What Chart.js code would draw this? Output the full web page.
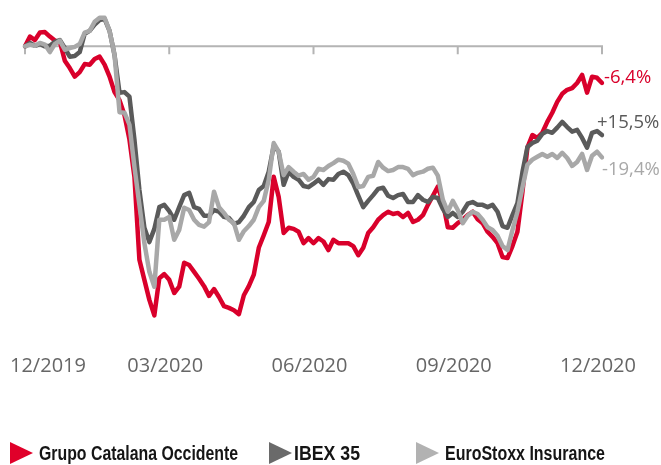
<!DOCTYPE html>
<html>
<head>
<meta charset="utf-8">
<script src="https://cdn.jsdelivr.net/npm/chart.js@4/dist/chart.umd.min.js"></script>
<style>
    body { margin: 0; background: #fff; }
    #wrap { position: relative; width: 661px; height: 465px; overflow: hidden; }
    .legend-tri {
        position: absolute;
        top: 442px;
        width: 0;
        height: 0;
        border-top: 11px solid transparent;
        border-bottom: 11px solid transparent;
        border-left-width: 23px;
        border-left-style: solid;
    }
    .legend-text {
        position: absolute;
        top: 442px;
        height: 22px;
        line-height: 22px;
        font: bold 19.5px "Liberation Sans", Arial, sans-serif;
        color: #151515;
        white-space: nowrap;
        transform-origin: left center;
    }
</style>
</head>
<body>
<div id="wrap">
    <canvas id="chart-performance"></canvas>
</div>
<script>
/**
 * Stock performance 12/2019 - 12/2020, % change from start.
 */

const tickLabels = ['12/2019', '03/2020', '06/2020', '09/2020', '12/2020'];
const tickIndex = [0, 29, 58, 87, 116];

const seriesNames = ['Grupo Catalana Occidente', 'IBEX 35', 'EuroStoxx Insurance'];
const endLabels = ['-6,4%', '+15,5%', '-19,4%'];

const gco = [
    0, 1.7, 1.1, 2.4, 2.5, 1.7, 1.0, 0.8, -2.5, -3.8,
    -5.3, -4.5, -3.1, -3.2, -2.2, -1.8, -3.2, -5.3, -8.0, -9.4,
    -12.0, -16.3, -22.8, -37.3, -40.8, -44.3, -47.0, -40.5, -39.8, -40.8,
    -43.1, -42.0, -37.8, -38.2, -39.4, -40.6, -41.9, -43.6, -42.4, -43.8,
    -45.4, -45.7, -46.1, -46.8, -43.5, -41.9, -39.9, -35.2, -33.0, -30.7,
    -22.8, -26.3, -32.6, -31.7, -31.9, -32.4, -34.4, -33.5, -34.4, -33.5,
    -34.1, -35.6, -33.8, -34.4, -34.4, -34.4, -34.9, -36.5, -35.2, -32.6,
    -31.6, -30.3, -29.5, -28.9, -29.3, -29.1, -29.8, -29.1, -30.7, -30.3,
    -29.5, -27.7, -26.1, -24.5, -27.2, -31.6, -31.7, -30.9, -30.3, -29.5,
    -28.9, -30.2, -30.9, -32.4, -33.3, -34.4, -36.8, -37.0, -34.9, -32.4,
    -25.5, -17.7, -15.5, -16.0, -15.1, -13.2, -11.6, -9.7, -8.3, -7.6,
    -7.3, -6.4, -5.0, -8.1, -5.3, -5.5, -6.4,
];

const ibex = [
    0, 0.6, 0.1, 0.4, 0, 0.1, 0.8, 1.1, -0.3, -1.8,
    -1.7, -1.0, 2.2, 2.7, 3.8, 4.6, 4.8, 2.7, -1.5, -8.1,
    -8.0, -8.8, -16.3, -25.1, -31.7, -34.2, -31.9, -28.1, -27.7, -28.8,
    -30.3, -28.1, -26.0, -25.6, -28.1, -28.4, -29.6, -29.6, -28.6, -28.9,
    -29.8, -30.0, -31.0, -30.7, -29.6, -28.1, -27.2, -25.1, -24.4, -21.9,
    -17.4, -18.4, -24.2, -21.9, -22.8, -23.3, -24.4, -24.6, -24.0, -23.3,
    -24.2, -23.2, -23.3, -22.3, -21.9, -22.5, -24.0, -26.1, -28.1, -27.0,
    -26.0, -24.9, -24.7, -26.1, -26.5, -26.0, -25.8, -27.2, -27.2, -26.0,
    -26.8, -27.2, -26.3, -26.5, -28.4, -29.8, -29.1, -29.8, -28.9, -27.5,
    -27.2, -27.7, -27.7, -28.1, -27.7, -28.9, -31.4, -31.7, -29.5, -27.4,
    -22.0, -17.6, -16.9, -16.5, -15.3, -14.8, -15.1, -14.2, -13.2, -14.1,
    -14.9, -14.6, -16.0, -17.7, -15.1, -14.8, -15.5,
];

const euroStoxx = [
    0, 0.3, 0.1, 0.6, 0.3, -1.0, 0.4, 1.0, -0.6, -0.3,
    -0.1, 0.4, 2.4, 2.7, 4.3, 5.0, 5.0, 2.7, -1.5, -11.5,
    -11.6, -13.7, -21.1, -27.7, -34.4, -39.4, -42.0, -30.3, -30.3, -29.8,
    -33.8, -32.1, -28.2, -28.6, -30.3, -31.2, -31.5, -30.7, -25.4, -28.1,
    -29.1, -30.3, -30.9, -33.8, -32.3, -31.4, -30.3, -28.1, -27.0, -23.3,
    -16.9, -18.4, -22.5, -21.1, -21.9, -22.6, -22.3, -23.3, -22.8, -21.4,
    -21.6, -20.9, -20.4, -19.8, -20.0, -20.5, -22.3, -24.6, -24.4, -22.8,
    -22.6, -20.2, -21.2, -21.8, -21.6, -21.1, -21.1, -21.4, -22.5, -22.1,
    -21.9, -21.4, -21.2, -22.6, -26.8, -28.9, -27.0, -28.6, -30.9, -29.6,
    -28.9, -29.3, -30.3, -31.6, -32.1, -33.1, -34.9, -35.6, -32.1, -28.9,
    -24.7, -20.7, -19.8, -19.3, -18.8, -19.3, -18.8, -19.5, -18.6, -19.5,
    -20.9, -20.2, -18.8, -21.6, -19.1, -18.4, -19.4,
];

const lineColors = ['#d9002b', '#5a5a5a', '#a8a8a8'];
const legendColors = ['#e0002a', '#6a6a6a', '#b2b2b2'];
// legend placement: triangle left, text left, text width (the original uses a condensed face)
const legendTriLeft = [10, 269, 416];
const legendTextLeft = [39, 294, 445];
const legendTextWidth = [199, 66, 160];
// where each end label sits relative to the last point
const endOffsets = [[2, -5], [-5, -12], [0, 12]];

const sessions = gco.map((_, i) => i);

// zero line with tick marks, plus the date labels far below it
const frame = {
    id: 'frame',
    beforeDatasetsDraw(chart) {
        const { ctx, chartArea, scales: { x, y } } = chart;
        const y0 = y.getPixelForValue(0);
        ctx.save();
        ctx.strokeStyle = '#b4b4b4';
        ctx.lineWidth = 2;
        ctx.beginPath();
        ctx.moveTo(chartArea.left, y0);
        ctx.lineTo(chartArea.right + 1, y0);
        tickIndex.forEach(i => {
            const px = x.getPixelForValue(i);
            ctx.moveTo(px, y0);
            ctx.lineTo(px, y0 + 8);
        });
        ctx.stroke();

        ctx.font = '20px "Open Sans", sans-serif';
        ctx.fillStyle = '#666666';
        ctx.textBaseline = 'alphabetic';
        tickLabels.forEach((t, k) => {
            const w = ctx.measureText(t).width;
            const cx = x.getPixelForValue(tickIndex[k]) - 4;
            const left = Math.max(10, Math.min(cx - w / 2, chart.width - 24 - w));
            ctx.fillText(t, left, 372);
        });
        ctx.restore();
    },
    afterDatasetsDraw(chart) {
        const { ctx } = chart;
        ctx.save();
        ctx.font = '18.5px "Open Sans", sans-serif';
        ctx.textAlign = 'left';
        ctx.textBaseline = 'middle';
        chart.data.datasets.forEach((ds, k) => {
            const pts = chart.getDatasetMeta(k).data;
            const last = pts[pts.length - 1];
            ctx.fillStyle = lineColors[k];
            ctx.fillText(endLabels[k], last.x + endOffsets[k][0], last.y + endOffsets[k][1]);
        });
        ctx.restore();
    },
};

const canvas = document.getElementById('chart-performance');

new Chart(canvas, {
    type: 'line',
    data: {
        labels: sessions,
        datasets: [
            { label: seriesNames[0], data: gco, borderColor: lineColors[0], order: 2 },
            { label: seriesNames[1], data: ibex, borderColor: lineColors[1], order: 1 },
            { label: seriesNames[2], data: euroStoxx, borderColor: lineColors[2], order: 0 },
        ],
    },
    options: {
        responsive: true,
        maintainAspectRatio: false,
        animation: false,
        layout: { padding: { left: 25, right: 59, top: 12, bottom: 132.5 } },
        elements: {
            line: { borderWidth: 4.5, tension: 0, borderJoinStyle: 'round', borderCapStyle: 'round' },
            point: { radius: 0, hitRadius: 0 },
        },
        plugins: {
            legend: { display: false },
            tooltip: { enabled: false },
        },
        scales: {
            x: { display: false, offset: false },
            y: { display: false, min: -50, max: 6 },
        },
    },
    plugins: [frame],
});

// legend under the chart
const wrap = document.getElementById('wrap');
seriesNames.forEach((name, k) => {
    const tri = document.createElement('div');
    tri.className = 'legend-tri';
    tri.style.left = legendTriLeft[k] + 'px';
    tri.style.borderLeftColor = legendColors[k];
    wrap.appendChild(tri);

    const txt = document.createElement('div');
    txt.className = 'legend-text';
    txt.style.left = legendTextLeft[k] + 'px';
    txt.textContent = name;
    wrap.appendChild(txt);
    const w = txt.getBoundingClientRect().width;
    txt.style.transform = 'scaleX(' + (legendTextWidth[k] / w).toFixed(3) + ')';
});
</script>
</body>
</html>
